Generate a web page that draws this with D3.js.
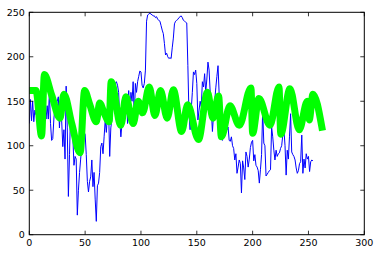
<!DOCTYPE html>
<html>
<head>
<meta charset="utf-8">
<script src="https://cdn.jsdelivr.net/npm/d3@7"></script>
<style>
  body { margin: 0; background: #fff; }
  svg { display: block; }
  text { font-family: "DejaVu Sans", sans-serif; font-size: 9.5px; fill: #000; }
</style>
</head>
<body>
<div id="main"></div>
<script>
// Datos
var blueY = [
  125, 152, 128, 150, 127, 140, 135, 148, 142, 130,
  148, 135, 132, 160, 140, 130, 145, 130, 160, 125,
  106, 108, 130, 145, 140, 150, 155, 120, 150, 128,
  99, 118, 85, 167, 120, 43, 90, 140, 115, 110,
  78, 88, 85, 22, 50, 70, 85, 100, 110, 115,
  113, 90, 60, 48, 60, 65, 84, 54, 70, 40,
  15, 55, 58, 70, 99, 103, 91, 110, 129, 115,
  135, 140, 88, 120, 130, 150, 165, 170, 172, 168,
  160, 130, 110, 125, 150, 155, 140, 158, 125, 162,
  135, 160, 150, 172, 130, 170, 160, 172, 178, 184,
  183, 168, 165, 170, 185, 240, 247, 248, 249, 248,
  247, 246, 246, 244, 245, 242, 241, 240, 235, 230,
  226, 215, 202, 204, 200, 198, 199, 198, 210, 221,
  237, 240, 241, 242, 244, 245, 246, 244, 241, 240,
  239, 238, 190, 135, 118, 140, 160, 183, 180, 185,
  170, 129, 140, 150, 144, 172, 166, 181, 160, 175,
  194, 185, 160, 140, 116, 135, 150, 165, 178, 190,
  159, 140, 129, 106, 130, 125, 128, 118, 121, 106,
  105, 110, 100, 97, 84, 91, 69, 76, 84, 80,
  47, 83, 75, 62, 93, 88, 76, 85, 98, 104,
  106, 83, 90, 78, 76, 72, 58, 73, 90, 140,
  103, 100, 66, 68, 70, 72, 73, 121, 110, 95,
  84, 95, 88, 91, 92, 97, 100, 112, 119, 100,
  67, 95, 85, 110, 136, 93, 90, 88, 84, 75,
  69, 72, 80, 82, 112, 69, 85, 75, 91, 85,
  88, 71, 82, 84, 83
];

var greenX = [3, 6, 11, 13.5, 20, 27.5, 31, 38, 45.5, 49.5, 54, 60, 63, 67, 71.5, 73.3,
  82, 86.5, 93, 97.5, 101.5, 107.4, 112.5, 117.5, 123.5, 129, 136.4, 141.8, 151.5, 159.5,
  164.5, 169.5, 172, 179.7, 188, 198.5, 200, 205.6, 215.5, 223.6, 225.2, 233.4, 241.7,
  249, 250.7, 254, 262];
var greenY = [162, 162, 111, 180, 157, 131, 158, 125, 92, 162, 147, 127, 148, 137, 127, 172,
  123, 155, 125, 150, 137, 166, 134, 162, 131, 163, 116, 146, 107, 160,
  131, 156, 110, 145, 123, 165, 114, 153, 123, 166, 113, 164, 118,
  150, 129, 158, 121];

var xTicks = [0, 50, 100, 150, 200, 250, 300];
var yTicks = [0, 50, 100, 150, 200, 250];

var svgWidth = 379, svgHeight = 256;
var plotLeft = 29.3, plotRight = 364.3, plotTop = 12.3, plotBottom = 234.7;

var svg = d3.select("#main").append("svg")
  .attr("width", svgWidth)
  .attr("height", svgHeight);

var x = d3.scaleLinear().domain([0, 300]).range([plotLeft, plotRight]);
var y = d3.scaleLinear().domain([0, 250]).range([plotBottom, plotTop]);

svg.append("clipPath").attr("id", "clip")
  .append("rect")
  .attr("x", plotLeft).attr("y", plotTop)
  .attr("width", plotRight - plotLeft).attr("height", plotBottom - plotTop);

var plot = svg.append("g").attr("clip-path", "url(#clip)");

var blueLine = d3.line()
  .x(function(d, i) { return x(i); })
  .y(function(d) { return y(d); });

plot.append("path")
  .attr("d", blueLine(blueY))
  .attr("fill", "none")
  .attr("stroke", "#0000ff")
  .attr("stroke-width", 1);

var greenLine = d3.line()
  .x(function(d, i) { return x(greenX[i]); })
  .y(function(d) { return y(d); })
  .curve(d3.curveMonotoneX);

plot.append("path")
  .attr("d", greenLine(greenY))
  .attr("fill", "none")
  .attr("stroke", "#00ff00")
  .attr("stroke-width", 7)
  .attr("stroke-linejoin", "round")
  .attr("stroke-linecap", "square");

// Ejes: marcas hacia adentro, en los cuatro lados
var tickLen = 4;
var axisG = svg.append("g");

xTicks.forEach(function(t) {
  axisG.append("line")
    .attr("x1", x(t)).attr("x2", x(t))
    .attr("y1", plotBottom).attr("y2", plotBottom - tickLen)
    .attr("stroke", "#000").attr("stroke-width", 0.8);
  axisG.append("line")
    .attr("x1", x(t)).attr("x2", x(t))
    .attr("y1", plotTop).attr("y2", plotTop + tickLen)
    .attr("stroke", "#000").attr("stroke-width", 0.8);
  axisG.append("text")
    .attr("x", x(t))
    .attr("y", plotBottom + 11.5)
    .attr("text-anchor", "middle")
    .text(t);
});

yTicks.forEach(function(t) {
  axisG.append("line")
    .attr("x1", plotLeft).attr("x2", plotLeft + tickLen)
    .attr("y1", y(t)).attr("y2", y(t))
    .attr("stroke", "#000").attr("stroke-width", 0.8);
  axisG.append("line")
    .attr("x1", plotRight).attr("x2", plotRight - tickLen)
    .attr("y1", y(t)).attr("y2", y(t))
    .attr("stroke", "#000").attr("stroke-width", 0.8);
  axisG.append("text")
    .attr("x", plotLeft - 4.5)
    .attr("y", y(t) + 3.4)
    .attr("text-anchor", "end")
    .text(t);
});

svg.append("rect")
  .attr("x", plotLeft).attr("y", plotTop)
  .attr("width", plotRight - plotLeft).attr("height", plotBottom - plotTop)
  .attr("fill", "none")
  .attr("stroke", "#000")
  .attr("stroke-width", 1);
</script>
</body>
</html>
